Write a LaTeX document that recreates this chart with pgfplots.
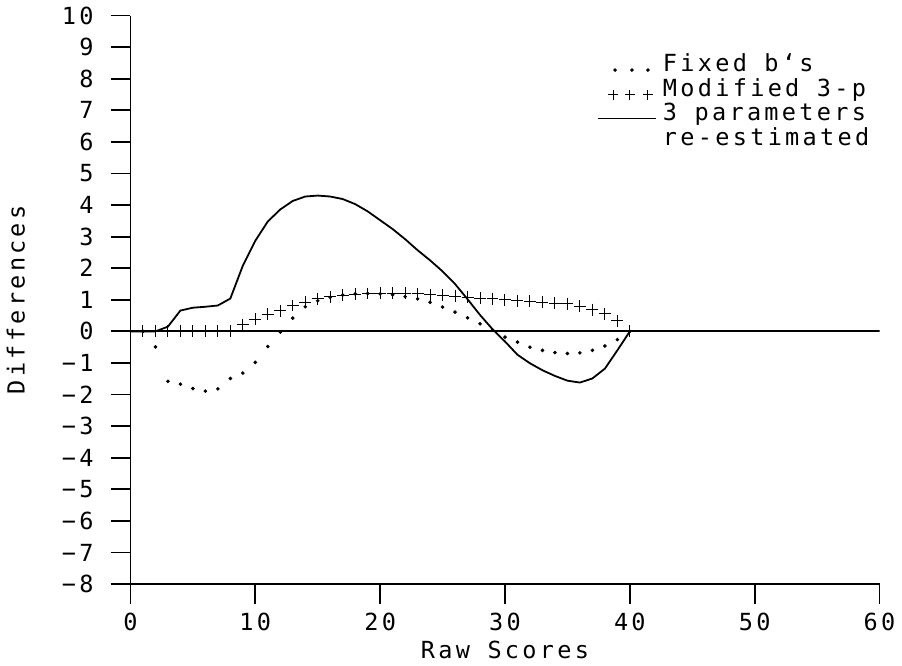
\documentclass[border=0pt]{standalone}
\usepackage{fontspec}
\setmainfont{DejaVu Sans Mono}[LetterSpace=14]
\usepackage{pgfplots}
\pgfplotsset{compat=1.18}

\begin{document}
\begin{tikzpicture}[font=\fontsize{11.8pt}{14pt}\selectfont]
\begin{axis}[
  width=375.5pt, height=285pt, scale only axis,
  xmin=0, xmax=60, ymin=-8, ymax=10,
  axis x line*=bottom, axis y line*=left,
  axis line style={-, line width=0.9pt},
  tick align=outside, major tick length=10pt,
  tick style={line width=0.9pt, black},
  xtick={0,10,...,60}, ytick={-8,-7,...,10},
  xticklabels={0,10,20,30,40,50,60},
  yticklabels={−8,−7,−6,−5,−4,−3,−2,−1,0,1,2,3,4,5,6,7,8,9,10},
  yticklabel style={xshift=-5pt},
  xticklabel style={yshift=-1pt},
  xlabel={Raw Scores}, ylabel={Differences},
  every axis x label/.style={at={(rel axis cs:0.5,0)}, anchor=center, yshift=-33pt},
  every axis y label/.style={at={(rel axis cs:0,0.5)}, rotate=90, anchor=center, yshift=57.5pt},
  legend cell align=left,
  legend style={draw=none, fill=none, inner sep=0pt,
    at={(rel axis cs:0.6225,0.939)}, anchor=north west,
    row sep=-1pt, nodes={inner sep=1.5pt},
    /tikz/every odd column/.append style={column sep=1.6pt}},
]
% zero reference line
\addplot[black, line width=0.9pt, forget plot] coordinates {(0,0) (60,0)};

% Fixed b's
\addplot[only marks, mark=*, mark size=0.7pt, black,
  legend image code/.code={\foreach \xx in {8.5,17,25} \fill (\xx pt,-3pt) circle (0.7pt);}]
coordinates {
(1,0) (2,-0.49) (3,-1.58) (4,-1.67) (5,-1.81) (6,-1.89) (7,-1.82) (8,-1.49)
(9,-1.32) (10,-0.98) (11,-0.48) (12,-0.02) (13,0.42) (14,0.78) (15,0.97)
(16,1.08) (17,1.15) (18,1.19) (19,1.20) (20,1.19) (21,1.16) (22,1.10)
(23,1.03) (24,0.92) (25,0.77) (26,0.61) (27,0.43) (28,0.24) (29,0.04)
(30,-0.18) (31,-0.34) (32,-0.50) (33,-0.60) (34,-0.67) (35,-0.70) (36,-0.68)
(37,-0.60) (38,-0.46) (39,-0.26) (40,0)};
\addlegendentry{Fixed b`s}

% Modified 3-p
\addplot[only marks, mark=+, mark size=3pt, black, mark options={line width=0.5pt},
  legend image code/.code={\foreach \xx in {7.5,16,25} {\draw[line width=0.5pt] ({\xx pt-2.5pt},-3pt) -- ({\xx pt+2.5pt},-3pt) ({\xx pt},-5.5pt) -- ({\xx pt},-0.5pt);}}]
coordinates {
(1,0) (2,0) (3,0) (4,0) (5,0) (6,0) (7,0) (8,0) (9,0.21) (10,0.38)
(11,0.54) (12,0.66) (13,0.82) (14,0.93) (15,1.03) (16,1.09) (17,1.15)
(18,1.18) (19,1.20) (20,1.21) (21,1.21) (22,1.21) (23,1.19) (24,1.16)
(25,1.14) (26,1.11) (27,1.08) (28,1.05) (29,1.03) (30,1.00) (31,0.97)
(32,0.95) (33,0.93) (34,0.89) (35,0.87) (36,0.80) (37,0.69) (38,0.56)
(39,0.34) (40,0)};
\addlegendentry{Modified 3-p}

% 3 parameters re-estimated
\addplot[black, line width=0.9pt,
  legend image code/.code={\draw[line width=0.9pt] (0pt,-2.5pt) -- (29pt,-2.5pt);}]
coordinates {
(0,0) (1,0) (2,0) (3,0.15) (4,0.66) (5,0.75) (6,0.78) (7,0.82) (8,1.04)
(9,2.08) (10,2.87) (11,3.48) (12,3.86) (13,4.13) (14,4.27) (15,4.30)
(16,4.27) (17,4.19) (18,4.03) (19,3.80) (20,3.52) (21,3.24) (22,2.92)
(23,2.57) (24,2.25) (25,1.90) (26,1.50) (27,1.02) (28,0.52) (29,0.07)
(30,-0.32) (31,-0.74) (32,-1.01) (33,-1.23) (34,-1.41) (35,-1.56)
(36,-1.62) (37,-1.49) (38,-1.18) (39,-0.60) (40,0)};
\addlegendentry{3 parameters}
\addlegendimage{empty legend}
\addlegendentry{re-estimated}
\end{axis}
\end{tikzpicture}
\end{document}
